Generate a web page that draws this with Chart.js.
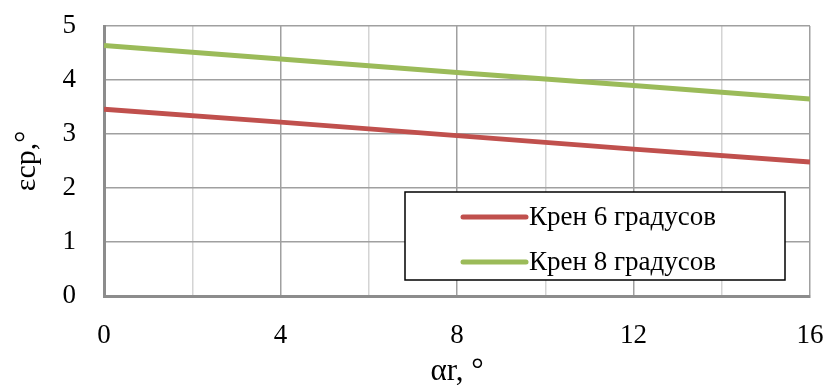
<!DOCTYPE html>
<html>
<head>
<meta charset="utf-8">
<script src="https://cdn.jsdelivr.net/npm/chart.js@4/dist/chart.umd.min.js"></script>
<style>
  html, body { margin: 0; padding: 0; background: #fff; }
  #wrap { width: 828px; height: 385px; }
</style>
</head>
<body>
<div id="wrap"><canvas id="c" width="828" height="385"></canvas></div>
<script>
// Angle of attack, degrees
const angles = [0, 4, 8, 12, 16];
// Mean angle for each heel case
const heel6 = [3.46, 3.22, 2.97, 2.72, 2.48];
const heel8 = [4.64, 4.39, 4.14, 3.90, 3.65];
const seriesNames = ['Крен 6 градусов', 'Крен 8 градусов'];
const seriesColors = ['#C0504D', '#9BBB59'];
const xTitle = 'αr, °';
const yTitle = 'εср,°';

const FONT = '"Liberation Serif", "Times New Roman", serif';

// Boxed legend inside the plot area
const boxLegend = {
  id: 'boxLegend',
  afterDraw(chart) {
    const ctx = chart.ctx;
    const x0 = 405, y0 = 192, w = 380, h = 88;
    ctx.save();
    ctx.fillStyle = '#fff';
    ctx.fillRect(x0, y0, w, h);
    ctx.strokeStyle = '#000';
    ctx.lineWidth = 1.5;
    ctx.strokeRect(x0, y0, w, h);
    ctx.font = '27px ' + FONT;
    ctx.textBaseline = 'middle';
    ctx.textAlign = 'left';
    chart.data.datasets.forEach((ds, i) => {
      const cy = 217 + i * 45;
      ctx.strokeStyle = ds.borderColor;
      ctx.lineWidth = 5;
      ctx.lineCap = 'round';
      ctx.beginPath();
      ctx.moveTo(463, cy);
      ctx.lineTo(526, cy);
      ctx.stroke();
      ctx.fillStyle = '#000';
      ctx.fillText(ds.label, 529, cy + 1);
    });
    ctx.restore();
  }
};

new Chart(document.getElementById('c'), {
  type: 'line',
  data: {
    datasets: [
      { label: seriesNames[0], data: angles.map((a, i) => ({ x: a, y: heel6[i] })),
        borderColor: seriesColors[0], backgroundColor: seriesColors[0],
        borderWidth: 5, pointRadius: 0, tension: 0 },
      { label: seriesNames[1], data: angles.map((a, i) => ({ x: a, y: heel8[i] })),
        borderColor: seriesColors[1], backgroundColor: seriesColors[1],
        borderWidth: 5, pointRadius: 0, tension: 0 }
    ]
  },
  options: {
    responsive: false,
    animation: false,
    devicePixelRatio: 1,
    layout: { padding: { top: 26, right: 18, left: 0, bottom: 0 } },
    plugins: { legend: { display: false }, tooltip: { enabled: false } },
    scales: {
      x: {
        type: 'linear', min: 0, max: 16,
        afterFit: s => { s.height = 89; s.paddingLeft = 0; s.paddingRight = 0; },
        ticks: {
          stepSize: 2, padding: 24, color: '#000',
          font: { family: FONT, size: 27 },
          callback: v => (v % 4 === 0 ? String(v) : '')
        },
        grid: {
          drawTicks: false,
          color: c => (c.tick && c.tick.value % 4 === 0 ? '#a0a0a0' : '#d4d4d4'),
          lineWidth: 1.5
        },
        border: { color: '#8c8c8c', width: 3 },
        title: { display: true, text: xTitle, color: '#000',
          font: { family: FONT, size: 31, lineHeight: 0.8 }, padding: { top: 0, bottom: 1 } }
      },
      y: {
        min: 0, max: 5,
        afterFit: s => { s.width = 104; s.paddingTop = 0; s.paddingBottom = 0; },
        ticks: { stepSize: 1, padding: 28, color: '#000',
          font: { family: FONT, size: 27 } },
        grid: { drawTicks: false, color: '#a0a0a0', lineWidth: 1.5 },
        border: { color: '#8c8c8c', width: 3 },
        title: { display: true, text: yTitle, color: '#000',
          font: { family: FONT, size: 30 }, padding: { top: 9, bottom: 0 } }
      }
    }
  },
  plugins: [boxLegend]
});
</script>
</body>
</html>
